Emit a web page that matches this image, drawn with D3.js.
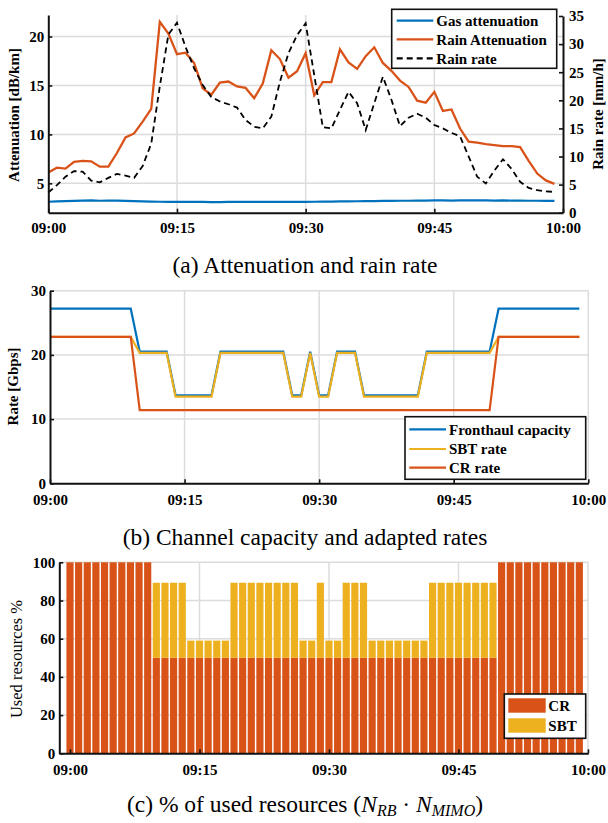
<!DOCTYPE html>
<html>
<head>
<meta charset="utf-8">
<script src="https://cdn.jsdelivr.net/npm/d3@7"></script>
<style>
body { margin: 0; background: #fff; }
svg text { font-family: "Liberation Serif", "Times New Roman", serif; fill: #000; }
.tick text { font-weight: bold; font-size: 15px; }
</style>
</head>
<body>
<svg id="fig" width="608" height="823"></svg>
<script>
// one sample per minute, 09:00 .. 09:59
var minutes = d3.range(60);
var timeTicks = [0, 15, 30, 45, 60];
var timeLabels = ["09:00", "09:15", "09:30", "09:45", "10:00"];

// (a) attenuation [dB/km] and rain rate [mm/h]
var gasAtt = [3.12,3.15,3.18,3.21,3.24,3.25,3.22,3.24,3.23,3.20,
              3.18,3.16,3.14,3.12,3.10,3.10,3.11,3.10,3.10,3.09,
              3.09,3.10,3.10,3.10,3.10,3.11,3.10,3.10,3.11,3.10,
              3.10,3.12,3.13,3.14,3.15,3.16,3.17,3.18,3.19,3.20,
              3.21,3.22,3.22,3.23,3.24,3.25,3.25,3.24,3.25,3.26,
              3.25,3.25,3.24,3.25,3.24,3.23,3.22,3.22,3.21,3.21];
var rainAtt = [6.1,6.6,6.5,7.2,7.3,7.25,6.7,6.7,8.1,9.7,
               10.1,11.3,12.6,21.5,20.3,18.2,18.35,17.3,14.7,14.05,
               15.3,15.4,14.9,14.75,13.7,15.2,18.6,17.7,15.8,16.45,
               18.3,14.0,15.35,15.35,18.7,17.35,16.7,18.0,18.9,17.3,
               16.5,15.5,14.85,13.45,13.25,14.35,12.4,12.55,10.6,9.25,
               9.15,9.0,8.9,8.8,8.8,8.7,7.3,6.0,5.3,4.95];
var rainRate = [3.6,4.9,6.4,7.4,7.3,5.7,5.4,6.2,6.9,6.6,
                6.2,8.3,12.3,22.5,31.7,33.8,29.5,25.7,22.7,20.6,
                19.8,19.3,18.7,16.5,15.3,15.0,17.1,23.3,28.4,31.6,
                33.7,24.5,15.2,15.0,18.3,21.5,19.5,14.7,19.5,24.2,
                20.1,15.4,16.9,17.6,16.9,15.6,15.0,14.2,13.6,10.0,
                6.4,5.2,7.5,9.5,7.8,5.5,4.4,4.0,3.8,3.7];
var attTicks = [5, 10, 15, 20];
var rateTicks = [0, 5, 10, 15, 20, 25, 30, 35];

// (b) rates [Gbps]
var capacity = [27.2,27.2,27.2,27.2,27.2,27.2,27.2,27.2,27.2,27.2,
                20.5,20.5,20.5,20.5,13.7,13.7,13.7,13.7,13.7,20.5,
                20.5,20.5,20.5,20.5,20.5,20.5,20.5,13.7,13.7,20.5,
                13.7,13.7,20.5,20.5,20.5,13.7,13.7,13.7,13.7,13.7,
                13.7,13.7,20.5,20.5,20.5,20.5,20.5,20.5,20.5,20.5,
                27.2,27.2,27.2,27.2,27.2,27.2,27.2,27.2,27.2,27.2];
var sbtRate = [22.8,22.8,22.8,22.8,22.8,22.8,22.8,22.8,22.8,22.8,
               20.3,20.3,20.3,20.3,13.5,13.5,13.5,13.5,13.5,20.3,
               20.3,20.3,20.3,20.3,20.3,20.3,20.3,13.5,13.5,20.3,
               13.5,13.5,20.3,20.3,20.3,13.5,13.5,13.5,13.5,13.5,
               13.5,13.5,20.3,20.3,20.3,20.3,20.3,20.3,20.3,20.3,
               22.8,22.8,22.8,22.8,22.8,22.8,22.8,22.8,22.8,22.8];
var crRate = [22.8,22.8,22.8,22.8,22.8,22.8,22.8,22.8,22.8,22.8,
              11.4,11.4,11.4,11.4,11.4,11.4,11.4,11.4,11.4,11.4,
              11.4,11.4,11.4,11.4,11.4,11.4,11.4,11.4,11.4,11.4,
              11.4,11.4,11.4,11.4,11.4,11.4,11.4,11.4,11.4,11.4,
              11.4,11.4,11.4,11.4,11.4,11.4,11.4,11.4,11.4,11.4,
              22.8,22.8,22.8,22.8,22.8,22.8,22.8,22.8,22.8,22.8];
var gbpsTicks = [0, 10, 20, 30];

// (c) used resources %
var crShare = [100,100,100,100,100,100,100,100,100,100,
               50,50,50,50,50,50,50,50,50,50,
               50,50,50,50,50,50,50,50,50,50,
               50,50,50,50,50,50,50,50,50,50,
               50,50,50,50,50,50,50,50,50,50,
               100,100,100,100,100,100,100,100,100,100];
var sbtShare = [0,0,0,0,0,0,0,0,0,0,
                39.3,39.3,39.3,39.3,9,9,9,9,9,39.3,
                39.3,39.3,39.3,39.3,39.3,39.3,39.3,9,9,39.3,
                9,9,39.3,39.3,39.3,9,9,9,9,9,
                9,9,39.3,39.3,39.3,39.3,39.3,39.3,39.3,39.3,
                0,0,0,0,0,0,0,0,0,0];
var pctTicks = [0, 20, 40, 60, 80, 100];

var blue = "#0072BD", orange = "#D95319", yellow = "#EDB120";
var gridColor = "#dcdcdc";

var svg = d3.select("#fig");

function styleAxis(g) {
  g.select(".domain").attr("stroke", "#111").attr("stroke-width", 2);
  g.selectAll(".tick line").attr("stroke", "#111").attr("stroke-width", 1.6);
}

function hGrid(g, x0, x1, y, vals) {
  g.selectAll(null).data(vals).enter().append("line")
    .attr("x1", x0).attr("x2", x1)
    .attr("y1", function (d) { return y(d); }).attr("y2", function (d) { return y(d); })
    .attr("stroke", gridColor).attr("stroke-width", 1.5);
}

function vGrid(g, y0, y1, x, vals) {
  g.selectAll(null).data(vals).enter().append("line")
    .attr("y1", y0).attr("y2", y1)
    .attr("x1", function (d) { return x(d); }).attr("x2", function (d) { return x(d); })
    .attr("stroke", gridColor).attr("stroke-width", 1.5);
}

function bottomAxis(x, yPos, pad) {
  var g = svg.append("g").attr("transform", "translate(0," + yPos + ")")
    .call(d3.axisBottom(x).tickValues(timeTicks)
      .tickFormat(function (d, i) { return timeLabels[i]; })
      .tickSize(-4).tickSizeOuter(0).tickPadding(pad));
  styleAxis(g);
  return g;
}

function leftAxis(y, xPos, vals) {
  var g = svg.append("g").attr("transform", "translate(" + xPos + ",0)")
    .call(d3.axisLeft(y).tickValues(vals).tickSize(-4).tickSizeOuter(0).tickPadding(4));
  styleAxis(g);
  return g;
}

function yLabel(text, x, y, bold, size) {
  svg.append("text").attr("transform", "translate(" + x + "," + y + ") rotate(-90)")
    .attr("text-anchor", "middle")
    .style("font-weight", bold ? "bold" : "normal")
    .style("font-size", size + "px")
    .text(text);
}

function legendBox(x, y, w, h) {
  svg.append("rect").attr("x", x).attr("y", y).attr("width", w).attr("height", h)
    .attr("fill", "#fff").attr("stroke", "#111").attr("stroke-width", 1.6);
}

function legendLine(x0, x1, y, color, dash, label) {
  svg.append("line").attr("x1", x0).attr("x2", x1).attr("y1", y).attr("y2", y)
    .attr("stroke", color).attr("stroke-width", 2.2)
    .attr("stroke-dasharray", dash ? "6,4" : null);
  svg.append("text").attr("x", x1 + 3).attr("y", y).attr("dy", "0.35em")
    .style("font-weight", "bold").style("font-size", "15px").text(label);
}

function caption(y, build) {
  var t = svg.append("text").attr("x", 305).attr("y", y).attr("text-anchor", "middle")
    .style("font-size", "23.5px");
  build(t);
}

// ---------- (a) ----------
var xa = d3.scaleLinear().domain([0, 60]).range([48.3, 563]);
var ya = d3.scaleLinear().domain([2, 22.2]).range([212.7, 15]);
var yr = d3.scaleLinear().domain([0, 35]).range([212.7, 16]);

var ga = svg.append("g");
hGrid(ga, xa(0), xa(60), ya, attTicks);
vGrid(ga, 15, 212.7, xa, [15, 30, 45]);

var lineA = function (y) {
  return d3.line().x(function (d, i) { return xa(minutes[i]); }).y(function (d) { return y(d); });
};
ga.append("path").datum(gasAtt).attr("d", lineA(ya))
  .attr("fill", "none").attr("stroke", blue).attr("stroke-width", 2.2);
ga.append("path").datum(rainAtt).attr("d", lineA(ya))
  .attr("fill", "none").attr("stroke", orange).attr("stroke-width", 2.3);
ga.append("path").datum(rainRate).attr("d", lineA(yr))
  .attr("fill", "none").attr("stroke", "#000").attr("stroke-width", 1.8)
  .attr("stroke-dasharray", "6,4");

bottomAxis(xa, 212.7, 10);
leftAxis(ya, 48.3, attTicks);
var ra = svg.append("g").attr("transform", "translate(563,0)")
  .call(d3.axisRight(yr).tickValues(rateTicks).tickSize(-4).tickSizeOuter(0).tickPadding(6));
styleAxis(ra);

yLabel("Attenuation [dB/km]", 19, 115, true, 15);
yLabel("Rain rate [mm/h]", 603, 114, true, 15);

legendBox(391.7, 9.3, 165, 59);
legendLine(396.7, 433.3, 20.7, blue, false, "Gas attenuation");
legendLine(396.7, 433.3, 39.3, orange, false, "Rain Attenuation");
legendLine(396.7, 433.3, 58.3, "#000", true, "Rain rate");

caption(273, function (t) { t.text("(a) Attenuation and rain rate"); });

// ---------- (b) ----------
var xb = d3.scaleLinear().domain([0, 60]).range([50, 588.3]);
var yb = d3.scaleLinear().domain([0, 30]).range([483.3, 290.7]);

var gb = svg.append("g");
hGrid(gb, xb(0), xb(60), yb, [10, 20, 30]);
vGrid(gb, 290.7, 483.3, xb, [15, 30, 45, 60]);

var lineB = d3.line().x(function (d, i) { return xb(minutes[i]); }).y(function (d) { return yb(d); });
[[capacity, blue], [sbtRate, yellow], [crRate, orange]].forEach(function (s) {
  gb.append("path").datum(s[0]).attr("d", lineB)
    .attr("fill", "none").attr("stroke", s[1]).attr("stroke-width", 2.2);
});

bottomAxis(xb, 483.3, 11);
leftAxis(yb, 50, gbpsTicks);
yLabel("Rate [Gbps]", 18, 386.5, true, 15);

legendBox(405, 416.7, 180.7, 62.6);
legendLine(409.3, 446, 429.3, blue, false, "Fronthaul capacity");
legendLine(409.3, 446, 449, yellow, false, "SBT rate");
legendLine(409.3, 446, 467.7, orange, false, "CR rate");

caption(545, function (t) { t.text("(b) Channel capacity and adapted rates"); });

// ---------- (c) ----------
var xc = d3.scaleLinear().domain([-1.24, 60.04]).range([59.3, 588.3]);
var yc = d3.scaleLinear().domain([0, 100]).range([753.3, 562.3]);

var gc = svg.append("g");
hGrid(gc, xc.range()[0], xc.range()[1], yc, [20, 40, 60, 80, 100]);
vGrid(gc, 562.3, 753.3, xc, [0, 15, 30, 45, 60]);

var barW = (xc(1) - xc(0)) * 0.83;
gc.selectAll(".cr").data(crShare).enter().append("rect")
  .attr("x", function (d, i) { return xc(minutes[i]) - barW / 2; })
  .attr("width", barW)
  .attr("y", function (d) { return yc(d); })
  .attr("height", function (d) { return yc(0) - yc(d); })
  .attr("fill", orange);
gc.selectAll(".sbt").data(sbtShare).enter().append("rect")
  .attr("x", function (d, i) { return xc(minutes[i]) - barW / 2; })
  .attr("width", barW)
  .attr("y", function (d, i) { return yc(crShare[i] + d); })
  .attr("height", function (d, i) { return yc(crShare[i]) - yc(crShare[i] + d); })
  .attr("fill", yellow);

bottomAxis(xc, 753.3, 11);
leftAxis(yc, 59.3, pctTicks);
yLabel("Used resources %", 21.5, 659, false, 16.5);

legendBox(504.3, 694, 81.4, 44.3);
[["CR", orange, 698.3], ["SBT", yellow, 718.3]].forEach(function (e) {
  svg.append("rect").attr("x", 508.3).attr("y", e[2]).attr("width", 37.4).attr("height", 14.4)
    .attr("fill", e[1]);
  svg.append("text").attr("x", 548.3).attr("y", e[2] + 7.2).attr("dy", "0.35em")
    .style("font-weight", "bold").style("font-size", "15px").text(e[0]);
});

caption(812, function (t) {
  t.append("tspan").text("(c) % of used resources (");
  t.append("tspan").style("font-style", "italic").text("N");
  t.append("tspan").style("font-style", "italic").style("font-size", "16px").attr("dy", 4).text("RB");
  t.append("tspan").attr("dy", -4).text(" \u00b7 ");
  t.append("tspan").style("font-style", "italic").text("N");
  t.append("tspan").style("font-style", "italic").style("font-size", "16px").attr("dy", 4).text("MIMO");
  t.append("tspan").attr("dy", -4).text(")");
});
</script>
</body>
</html>
